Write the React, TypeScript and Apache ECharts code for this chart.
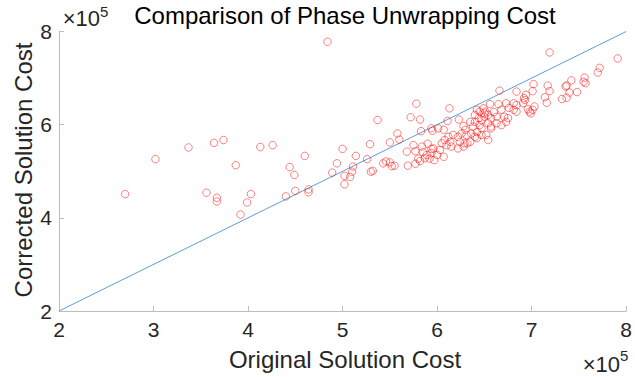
import { useEffect, useRef } from "react";
import * as echarts from "echarts";

// Solution costs, in units of 1e5
const originalCost = [
  2.70, 3.02, 3.37, 3.64, 3.74, 3.87, 3.56, 3.67, 3.67, 3.92, 3.99, 4.03, 4.13, 4.26, 4.60, 4.44,
  4.49, 4.40, 4.50, 4.64, 4.64, 4.84, 4.89, 4.94, 5.00, 5.02, 5.02, 5.08, 5.10, 5.11, 5.14, 5.26,
  5.29, 5.30, 5.32, 5.37, 5.43, 5.46, 5.50, 5.52, 5.55, 5.50, 5.58, 5.60, 5.68, 5.69, 5.72, 5.78,
  5.82, 5.77, 5.80, 5.75, 5.83, 5.84, 5.82, 5.90, 5.94, 5.95, 5.85, 5.89, 5.94, 5.87, 5.92, 5.97,
  5.77, 6.13, 6.23, 6.11, 5.94, 6.01, 6.07, 6.56, 6.66, 6.65, 6.73, 6.81, 6.76, 6.81, 6.84, 6.92,
  6.42, 6.45, 6.49, 6.51, 6.54, 6.50, 6.40, 6.44, 6.47, 6.35, 6.38, 6.45, 6.54, 6.57, 6.63, 6.68,
  6.73, 6.75, 6.63, 6.71, 6.30, 6.26, 6.31, 6.36, 6.22, 6.17, 6.12, 6.08, 6.05, 6.10, 6.15, 6.14,
  6.03, 5.96, 6.00, 6.07, 6.22, 6.28, 6.35, 6.42, 6.52, 6.54, 6.47, 6.24, 6.29, 7.19, 7.91, 7.72,
  7.70, 7.56, 7.55, 7.57, 7.42, 7.37, 7.36, 7.48, 7.40, 7.37, 7.32, 7.17, 7.19, 7.02, 7.01, 7.14,
  7.16, 6.94, 6.93, 6.91, 7.03, 7.01, 6.98, 6.99, 6.96, 6.84, 6.84, 6.68, 6.60, 6.40, 6.42, 6.57,
  6.28, 6.40, 6.50, 6.47, 6.32, 6.57,
];
const correctedCost = [
  4.51, 5.26, 5.51, 5.61, 5.67, 5.13, 4.54, 4.43, 4.35, 4.07, 4.33, 4.51, 5.52, 5.56, 5.33, 5.09,
  4.92, 4.46, 4.58, 4.61, 4.55, 7.78, 4.97, 5.17, 5.48, 4.90, 4.72, 4.88, 4.99, 5.10, 5.33, 5.26,
  5.58, 4.99, 5.01, 6.10, 5.17, 5.21, 5.19, 5.11, 5.12, 5.62, 5.81, 5.68, 5.42, 5.12, 6.16, 6.45,
  6.11, 5.16, 5.27, 5.56, 5.86, 5.53, 5.22, 5.59, 5.48, 5.87, 5.41, 5.35, 5.39, 5.28, 5.27, 5.24,
  5.43, 6.35, 6.11, 6.08, 5.92, 5.92, 5.89, 6.44, 6.73, 6.44, 6.46, 6.46, 6.36, 6.32, 6.71, 6.57,
  6.32, 6.28, 6.35, 6.28, 6.21, 6.17, 6.21, 6.14, 6.10, 6.06, 5.96, 5.99, 6.03, 5.92, 6.03, 5.99,
  6.06, 6.14, 6.17, 6.17, 5.89, 5.81, 5.78, 5.81, 5.74, 5.78, 5.74, 5.67, 5.60, 5.56, 5.53, 5.63,
  5.46, 5.49, 5.35, 5.31, 5.49, 5.53, 5.63, 5.71, 5.78, 5.67, 5.78, 5.63, 5.60, 7.55, 7.42, 7.22,
  7.12, 7.01, 6.92, 6.89, 6.95, 6.84, 6.82, 6.70, 6.69, 6.58, 6.55, 6.84, 6.72, 6.87, 6.72, 6.59,
  6.47, 6.64, 6.53, 6.46, 6.39, 6.32, 6.28, 6.24, 6.33, 6.42, 6.28, 6.32, 6.27, 5.74, 5.84, 6.14,
  5.97, 6.06, 6.24, 5.92, 5.60, 5.96,
];

// Equal-cost reference line endpoints (x = y)
const identityLine = [2, 8];

const axisRange = [2, 8];
const xTickStep = 1;
const yTickStep = 2;

const FONT = '"Liberation Sans", Arial, Helvetica, sans-serif';
const AXIS_GRAY = "#bdbdbd";
const TEXT_DARK = "#262626";

export default function App() {
  const ref = useRef<HTMLDivElement>(null);

  useEffect(() => {
    const chart = echarts.init(ref.current!, null, { renderer: "svg" });
    const points = originalCost.map((x, i) => [x, correctedCost[i]]);

    const axisCommon = {
      type: "value",
      min: axisRange[0],
      max: axisRange[1],
      axisLine: { show: true, lineStyle: { color: AXIS_GRAY, width: 1 } },
      axisTick: { show: true, inside: true, length: 5, lineStyle: { color: AXIS_GRAY, width: 1 } },
      splitLine: { show: false },
    };

    chart.setOption({
      animation: false,
      backgroundColor: "#ffffff",
      grid: { left: 59, right: 4, top: 31.5, bottom: 66 },
      xAxis: {
        ...axisCommon,
        interval: xTickStep,
        axisLabel: { color: TEXT_DARK, fontSize: 21, fontFamily: FONT, margin: 8 },
      },
      yAxis: {
        ...axisCommon,
        interval: yTickStep,
        axisLabel: { color: TEXT_DARK, fontSize: 21, fontFamily: FONT, margin: 7 },
      },
      series: [
        {
          type: "line",
          data: [
            [identityLine[0], identityLine[0]],
            [identityLine[1], identityLine[1]],
          ],
          symbol: "none",
          silent: true,
          lineStyle: { color: "#5a9fd8", width: 1 },
          z: 1,
        },
        {
          type: "scatter",
          data: points,
          symbol: "circle",
          symbolSize: 7.5,
          itemStyle: { color: "transparent", borderColor: "rgba(255,0,0,0.62)", borderWidth: 1 },
          z: 2,
        },
      ],
      graphic: [
        {
          type: "text",
          x: 345,
          y: 15,
          style: {
            text: "Comparison of Phase Unwrapping Cost",
            fontSize: 24,
            fontFamily: FONT,
            fill: "#000000",
            align: "center",
            verticalAlign: "middle",
          },
        },
        {
          type: "text",
          x: 345,
          y: 359,
          style: {
            text: "Original Solution Cost",
            fontSize: 24,
            fontFamily: FONT,
            fill: TEXT_DARK,
            align: "center",
            verticalAlign: "middle",
          },
        },
        {
          type: "text",
          x: 23,
          y: 170,
          rotation: Math.PI / 2,
          style: {
            text: "Corrected Solution Cost",
            fontSize: 24,
            fontFamily: FONT,
            fill: TEXT_DARK,
            align: "center",
            verticalAlign: "middle",
          },
        },
        // exponent marker for the y axis
        {
          type: "text",
          x: 100,
          y: 18,
          style: { text: "×10", fontSize: 22, fontFamily: FONT, fill: TEXT_DARK, align: "right", verticalAlign: "middle" },
        },
        {
          type: "text",
          x: 100,
          y: 11,
          style: { text: "5", fontSize: 15, fontFamily: FONT, fill: TEXT_DARK, align: "left", verticalAlign: "middle" },
        },
        // exponent marker for the x axis
        {
          type: "text",
          x: 620,
          y: 364,
          style: { text: "×10", fontSize: 22, fontFamily: FONT, fill: TEXT_DARK, align: "right", verticalAlign: "middle" },
        },
        {
          type: "text",
          x: 620,
          y: 355,
          style: { text: "5", fontSize: 15, fontFamily: FONT, fill: TEXT_DARK, align: "left", verticalAlign: "middle" },
        },
      ],
    });

    return () => chart.dispose();
  }, []);

  return (
    <div
      ref={ref}
      style={{ position: "fixed", left: 0, top: 0, width: 635, height: 377, background: "#fff" }}
    />
  );
}
